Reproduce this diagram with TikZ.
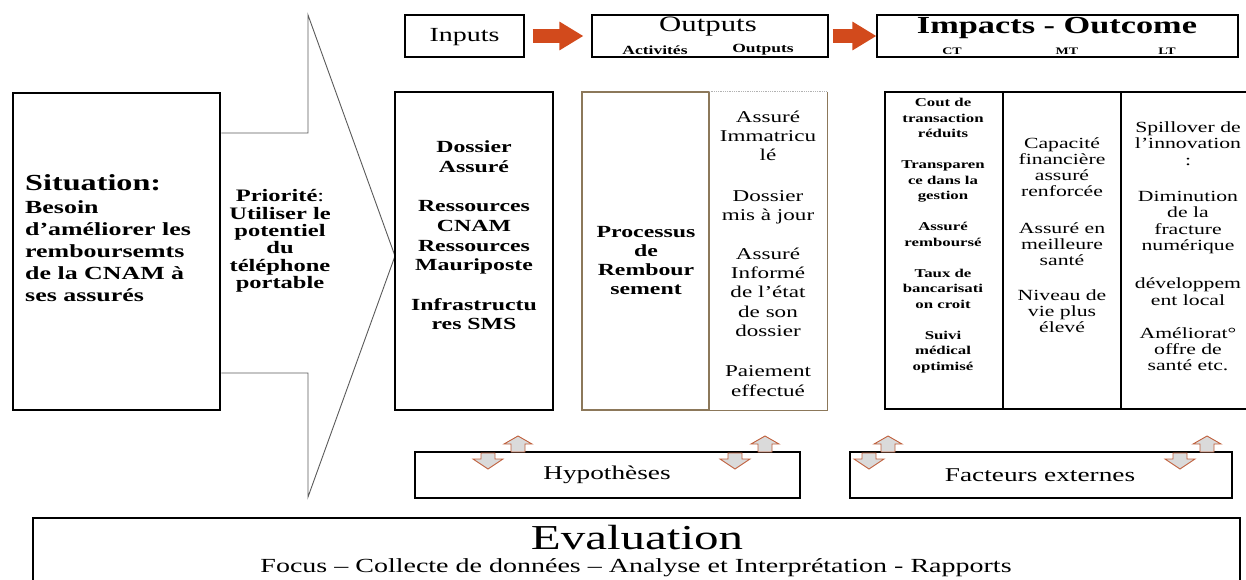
\documentclass[tikz,border=0pt]{standalone}
\usepackage{fontspec}
\setmainfont{Liberation Serif}[FakeStretch=1.4]
\usetikzlibrary{arrows.meta}
\definecolor{arroworange}{RGB}{210,74,28}
\definecolor{tipline}{RGB}{192,96,60}
\definecolor{tipfill}{RGB}{218,218,218}
\definecolor{procbrown}{RGB}{140,120,90}
\definecolor{shapegray}{RGB}{90,90,90}
\newcommand\fsz[2]{\fontsize{#1}{#2}\selectfont}

\begin{document}
\begin{tikzpicture}[x=1pt,y=-1pt,
  boxframe/.style={draw=black, line width=#1, inner sep=0pt},
  txt/.style={inner sep=0pt, align=center},
  flowarrow/.style={draw=arroworange, line width=14pt,
    -{Triangle[width=27pt,length=24pt]}},
  blockarrow/.style={draw=tipline, fill=tipfill, line width=0.9pt, line join=miter}]
\useasboundingbox (0,0) rectangle (1246,579);
\clip (0,0) rectangle (1246,579);

% ---------- header row ----------
\node[boxframe=1.4pt, minimum width=119pt, minimum height=42pt] (inputs) at (464.5,36) {};
\node[txt, font=\fsz{20}{22}] (inputsT) at (464.5,37) {Inputs};
\node[boxframe=1.1pt, minimum width=236pt, minimum height=42pt] (outputs) at (710,36) {};
\node[txt, font=\fsz{22}{24}] (outputsT) at (708,27) {Outputs};
\node[txt, font=\fsz{12.5}{14}\bfseries] (activT) at (655,50) {Activités};
\node[txt, font=\fsz{12.5}{14}\bfseries] (outsubT) at (763,50) {Outputs};
\node[boxframe=1.1pt, minimum width=361pt, minimum height=42pt] (impacts) at (1057.5,36) {};
\node[txt, font=\fsz{24.5}{26}\bfseries] (impactsT) at (1057,28) {Impacts - Outcome};
\node[txt, font=\fsz{10}{12}\bfseries] (ctT) at (952,51) {CT};
\node[txt, font=\fsz{10}{12}\bfseries] (mtT) at (1067,51) {MT};
\node[txt, font=\fsz{10}{12}\bfseries] (ltT) at (1167,51) {LT};

\draw[flowarrow] ([xshift=8pt]inputs.east) -- ([xshift=-8pt]outputs.west);
\draw[flowarrow] ([xshift=4pt]outputs.east) -- (impacts.west);

% ---------- situation and the large arrow ----------
\node[boxframe=2.8pt, minimum width=207pt, minimum height=317pt] (situation) at (116.5,251.5) {};
\node[txt, anchor=west, font=\fsz{23}{25}\bfseries] (sitT) at (25,183) {Situation:};
\node[txt, anchor=west, align=left, font=\fsz{18.5}{22}\bfseries] (sitB) at (25,251)
  {Besoin\\d’améliorer les\\remboursemts\\de la CNAM à\\ses assurés};

\draw[shapegray, line width=0.9pt, line join=miter]
  (situation.east |- 0,133) -- (308,133) -- (308,15) -- (395,256)
  -- (308,497) -- (308,373) -- (situation.east |- 0,373);
\node[txt, font=\fsz{17.5}{17.3}\bfseries] (prioT) at (280,241)
  {Priorité\mdseries:\\Utiliser le\\potentiel\\du\\téléphone\\portable};

% ---------- inputs column ----------
\node[boxframe=2pt, minimum width=158pt, minimum height=318pt] (dossier) at (474,251) {};
\node[txt, font=\fsz{17}{19.7}\bfseries] (dossierT) at (474,235.5)
  {Dossier\\Assuré\\[19.7pt]Ressources\\CNAM\\Ressources\\Mauriposte\\[19.7pt]Infrastructu\\res SMS};

% ---------- activities / outputs ----------
\node[draw=procbrown, line width=2pt, inner sep=0pt, minimum width=127pt, minimum height=318pt] (processus) at (645.5,251) {};
\node[txt, font=\fsz{17}{19}\bfseries] (processusT) at (646,260.5)
  {Processus\\de\\Rembour\\sement};
\node[inner sep=0pt, minimum width=118pt, minimum height=318pt] (outcol) at (768,251) {};
\draw[procbrown, line width=1.3pt] (outcol.north east) -- (outcol.south east) -- (outcol.south west);
\draw[gray!60, densely dotted, line width=0.8pt] (outcol.north west) -- (outcol.north east);
\node[txt, font=\fsz{16.5}{19.3}] (outcolT) at (768,253.5)
  {Assuré\\Immatricu\\lé\\[21pt]Dossier\\mis à jour\\[19.5pt]Assuré\\Informé\\de l’état\\de son\\dossier\\[21pt]Paiement\\effectué};

% ---------- impacts columns ----------
\node[boxframe=2pt, minimum width=118pt, minimum height=317pt] (ctcol) at (944,250.5) {};
\node[boxframe=2pt, minimum width=118pt, minimum height=317pt] (mtcol) at (1062,250.5) {};
\node[boxframe=2pt, minimum width=129pt, minimum height=317pt] (ltcol) at (1185.5,250.5) {};
\node[txt, font=\fsz{12}{15.5}\bfseries] (ctT2) at (943,235.5)
  {Cout de\\transaction\\réduits\\[15.5pt]Transparen\\ce dans la\\gestion\\[15.5pt]Assuré\\remboursé\\[15.5pt]Taux de\\bancarisati\\on croit\\[15.5pt]Suivi\\médical\\optimisé};
\node[txt, font=\fsz{15.5}{16}] (mtT2) at (1062,235)
  {Capacité\\financière\\assuré\\renforcée\\[21pt]Assuré en\\meilleure\\santé\\[19pt]Niveau de\\vie plus\\élevé};
\node[txt, font=\fsz{15.5}{16.3}] (ltT2) at (1188,246.5)
  {Spillover de\\l’innovation\\:\\[20pt]Diminution\\de la\\fracture\\numérique\\[22pt]développem\\ent local\\[17pt]Améliorat°\\offre de\\santé etc.};

% ---------- assumptions and external factors ----------
\node[boxframe=2pt, minimum width=385pt, minimum height=46pt] (hyp) at (607.5,475) {};
\node[txt, font=\fsz{19.5}{22}] (hypT) at (607,475) {Hypothèses};
\node[boxframe=2pt, minimum width=382pt, minimum height=46pt] (facteurs) at (1041,475) {};
\node[txt, font=\fsz{19.5}{22}] (facteursT) at (1040,475) {Facteurs externes};

% small up/down block arrows on the top edges
\foreach \cx in {518,765,888,1207}{
  \draw[blockarrow] (\cx-7,452) -- (\cx-7,444) -- (\cx-14,444) -- (\cx,436)
    -- (\cx+14,444) -- (\cx+7,444) -- (\cx+7,452) -- cycle;
}
\foreach \cx in {488,735,869,1180}{
  \draw[blockarrow] (\cx-7,453) -- (\cx-7,459) -- (\cx-15,459) -- (\cx,469)
    -- (\cx+15,459) -- (\cx+7,459) -- (\cx+7,453) -- cycle;
}

% ---------- evaluation ----------
\node[boxframe=2.8pt, minimum width=1207pt, minimum height=82pt] (eval) at (636.5,559) {};
\node[txt, font=\fsz{35}{38}] (evalT) at (637,538) {Evaluation};
\node[txt, font=\fsz{20}{22}] (evalS) at (636,568) {Focus – Collecte de données – Analyse et Interprétation - Rapports};
\end{tikzpicture}
\end{document}
